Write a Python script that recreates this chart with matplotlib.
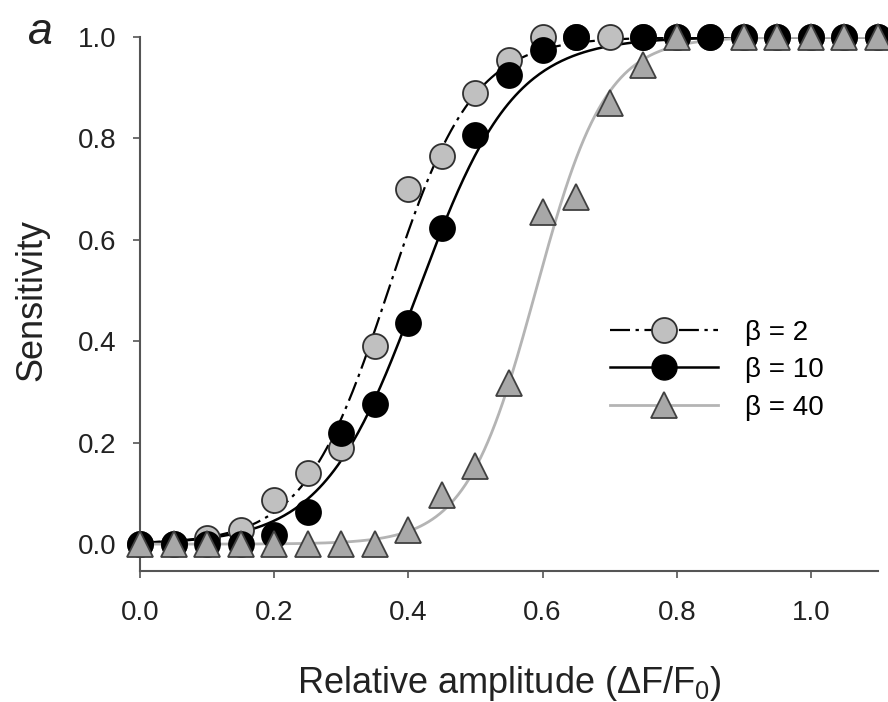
import numpy as np
import matplotlib
matplotlib.use("Agg")
import matplotlib.pyplot as plt

plt.rcParams['font.family'] = ['Liberation Sans', 'DejaVu Sans']
plt.rcParams['mathtext.fontset'] = 'custom'
plt.rcParams['mathtext.rm'] = 'Liberation Sans'
plt.rcParams['mathtext.it'] = 'Liberation Sans:italic'
plt.rcParams['mathtext.default'] = 'regular'

# relative amplitude values (x)
amp = [0.00, 0.05, 0.10, 0.15, 0.20, 0.25, 0.30, 0.35, 0.40, 0.45, 0.50, 0.55,
       0.60, 0.65, 0.70, 0.75, 0.80, 0.85, 0.90, 0.95, 1.00, 1.05, 1.10]

nan = np.nan
sens_b2 = [0.0, 0.0, 0.013, 0.027, 0.087, 0.14, 0.19, 0.39, 0.70, 0.765, 0.89, 0.955,
           1.0, 1.0, 1.0, 1.0, 1.0, 1.0, 1.0, 1.0, 1.0, 1.0, 1.0]
sens_b10 = [0.0, 0.0, 0.0, 0.0, 0.018, 0.063, 0.22, 0.277, 0.436, 0.623, 0.806, 0.925,
            0.975, 1.0, nan, 1.0, 1.0, 1.0, 1.0, 1.0, 1.0, 1.0, 1.0]
sens_b40 = [0.0, 0.0, 0.0, 0.0, 0.0, 0.0, 0.0, 0.0, 0.028, 0.097, 0.155, 0.317,
            0.655, 0.685, 0.87, 0.945, 1.0, nan, 1.0, 1.0, 1.0, 1.0, 1.0]

# fitted sigmoid parameters (midpoint, slope) for each beta
fit_b2 = (0.37, 0.063)
fit_b10 = (0.415, 0.071)
fit_b40 = (0.59, 0.052)


def sigmoid(x, p):
    return 1.0 / (1.0 + np.exp(-(x - p[0]) / p[1]))


fig = plt.figure(figsize=(8.88, 7.02), dpi=100)
ax = fig.add_axes([140 / 888, 1 - 571 / 702, 738 / 888, 534 / 702])

xs = np.linspace(0, 1.1, 400)
ms = 18
dashdot = (0, (9, 2.5, 1.5, 2.5))
ax.plot(xs, sigmoid(xs, fit_b2), color='black', lw=1.6, ls=dashdot, zorder=2)
ax.plot(xs, sigmoid(xs, fit_b10), color='black', lw=1.8, zorder=2)
ax.plot(xs, sigmoid(xs, fit_b40), color='#b4b4b4', lw=2.0, zorder=2)

ax.plot(amp, sens_b2, 'o', ms=ms, mfc='#c0c0c0', mec='#303030', mew=1.3, zorder=3, clip_on=False)
ax.plot(amp, sens_b10, 'o', ms=ms, mfc='black', mec='black', mew=1.3, zorder=4, clip_on=False)
ax.plot(amp, sens_b40, '^', ms=ms + 1, mfc='#a8a8a8', mec='#404040', mew=1.3, zorder=5, clip_on=False)

# legend handles
h1, = ax.plot([], [], color='black', lw=1.6, ls=dashdot,
              marker='o', ms=ms, mfc='#c0c0c0', mec='#303030', mew=1.3)
h2, = ax.plot([], [], color='black', lw=1.8, marker='o', ms=ms, mfc='black', mec='black')
h3, = ax.plot([], [], color='#b4b4b4', lw=2.0, marker='^', ms=ms + 1, mfc='#a8a8a8',
              mec='#404040', mew=1.3)
ax.legend([h1, h2, h3], ['β = 2', 'β = 10', 'β = 40'], frameon=False, fontsize=20,
          loc='center left', bbox_to_anchor=(0.637, 0.376), handlelength=3.9,
          handletextpad=0.95, labelspacing=0.42, borderaxespad=0, borderpad=0)

ax.set_xlim(0, 1.1)
ax.set_ylim(-0.053, 1.0)
ax.set_xticks([0.0, 0.2, 0.4, 0.6, 0.8, 1.0])
ax.set_yticks([0.0, 0.2, 0.4, 0.6, 0.8, 1.0])
ax.set_xticklabels(['0.0', '0.2', '0.4', '0.6', '0.8', '1.0'])
ax.set_yticklabels(['0.0', '0.2', '0.4', '0.6', '0.8', '1.0'])
for s in ['top', 'right']:
    ax.spines[s].set_visible(False)
for s in ['left', 'bottom']:
    ax.spines[s].set_color('#555555')
    ax.spines[s].set_linewidth(1.5)
ax.tick_params(direction='out', length=5, width=1.2, color='#555555',
               labelsize=20, labelcolor='#222222')
ax.tick_params(axis='y', pad=12)
ax.tick_params(axis='x', pad=16)

ax.set_ylabel('Sensitivity', fontsize=26, color='#222222', va='center')
ax.yaxis.set_label_coords(-0.146, 0.507)
ax.set_xlabel('Relative amplitude (ΔF/F$_0$)', fontsize=26, color='#222222', va='center')
ax.xaxis.set_label_coords(0.50, -0.21)

fig.text(40 / 888, 1 - 33 / 702, 'a', fontsize=32, style='italic', ha='center', va='center',
         color='#222222')

fig.savefig('out.png', dpi=100)
